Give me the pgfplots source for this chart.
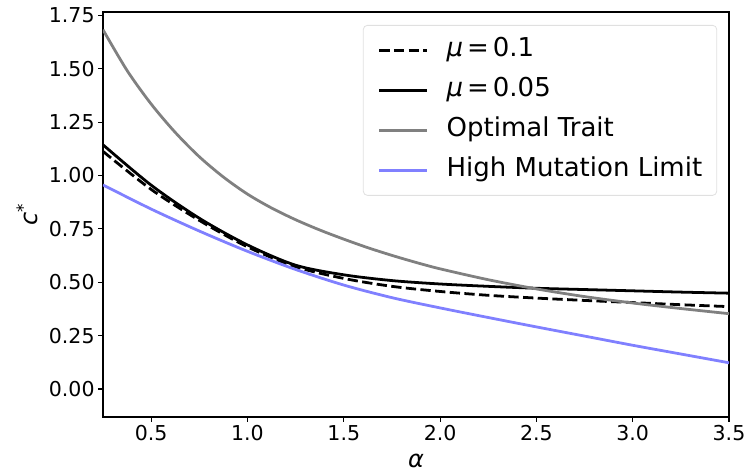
\documentclass[border=0pt]{standalone}
\usepackage{fontspec}
\setmainfont{DejaVu Sans}
\usepackage{pgfplots}
\pgfplotsset{compat=1.18}
\definecolor{mygray}{HTML}{808080}
\definecolor{myblue}{HTML}{8080FF}
\begin{document}
\begin{tikzpicture}
\begin{axis}[
  scale only axis,
  width=626bp, height=405bp,
  xmin=0.25, xmax=3.5,
  ymin=-0.131, ymax=1.766,
  xtick={0.5,1.0,1.5,2.0,2.5,3.0,3.5},
  ytick={0,0.25,0.5,0.75,1.0,1.25,1.5,1.75},
  xticklabel style={/pgf/number format/.cd,fixed,fixed zerofill,precision=1},
  yticklabel style={/pgf/number format/.cd,fixed,fixed zerofill,precision=2},
  /pgf/number format/assume math mode=true,
  tick label style={font=\fontsize{20.5bp}{24bp}\selectfont},
  tick align=outside,
  tick pos=left,
  major tick length=4.9bp,
  every tick/.style={black, line width=1.1bp},
  axis line style={line width=1.1bp, black},
  xlabel={\itshape α},
  ylabel={\itshape c\textsuperscript{\normalfont *}},
  label style={font=\fontsize{24bp}{28bp}\selectfont},
  xlabel style={yshift=-6bp},
  ylabel style={yshift=4bp},
  legend cell align=left,
  legend style={
    at={(rel axis cs:0.981,0.968)}, anchor=north east,
    draw=black!12, rounded corners=4bp, line width=0.8bp,
    font=\fontsize{26bp}{30bp}\selectfont,
    nodes={inner sep=0pt, text height=19bp, text depth=6bp},
    inner xsep=14.5bp, inner ysep=12.5bp,
    row sep=15bp,
    /tikz/column 1/.style={column sep=18bp},
  },
  legend image code/.code={
    \draw[#1] (0bp,0bp) -- (48bp,0bp);
  },
]
% mu = 0.1 (dashed)
\addplot[black, line width=2.78bp, dash pattern=on 10.3bp off 4.4bp, smooth] coordinates {
(0.25,1.113) (0.5,0.935) (0.75,0.790) (1.0,0.666) (1.25,0.573) (1.5,0.518) (1.75,0.481) (2.0,0.457) (2.25,0.439) (2.5,0.426) (2.75,0.415) (3.0,0.405) (3.25,0.395) (3.5,0.386)
};
\addlegendentry{{\itshape μ}\kern4bp=\kern4bp0.1}
% mu = 0.05
\addplot[black, line width=2.78bp, smooth] coordinates {
(0.25,1.144) (0.5,0.955) (0.75,0.800) (1.0,0.675) (1.25,0.580) (1.5,0.535) (1.75,0.508) (2.0,0.492) (2.25,0.481) (2.5,0.472) (2.75,0.466) (3.0,0.460) (3.25,0.454) (3.5,0.449)
};
\addlegendentry{{\itshape μ}\kern4bp=\kern4bp0.05}
% optimal trait
\addplot[mygray, line width=2.78bp, smooth] coordinates {
(0.25,1.683) (0.375,1.492) (0.5,1.335) (0.625,1.202) (0.75,1.088) (0.875,0.993) (1.0,0.913) (1.125,0.848) (1.25,0.793) (1.375,0.745) (1.5,0.702) (1.625,0.662) (1.75,0.626) (1.875,0.593) (2.0,0.563) (2.25,0.512) (2.5,0.469) (2.75,0.433) (3.0,0.403) (3.25,0.377) (3.5,0.353)
};
\addlegendentry{Optimal Trait}
% high mutation limit
\addplot[myblue, line width=2.78bp, smooth] coordinates {
(0.25,0.956) (0.5,0.843) (0.75,0.740) (1.0,0.645) (1.25,0.560) (1.5,0.487) (1.75,0.428) (2.0,0.380) (2.25,0.335) (2.5,0.291) (2.75,0.248) (3.0,0.205) (3.25,0.164) (3.5,0.123)
};
\addlegendentry{High Mutation Limit}
\end{axis}
\pgfresetboundingbox
\path ([shift={(-103bp,-57bp)}]current axis.south west) rectangle ([shift={(17bp,12bp)}]current axis.north east);
\end{tikzpicture}
\end{document}
